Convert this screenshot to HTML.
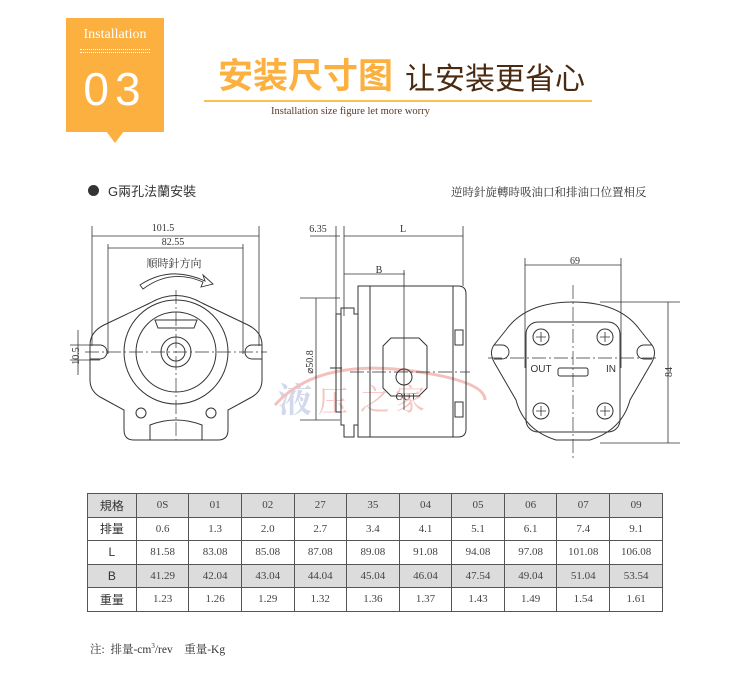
<!DOCTYPE html>
<html><head><meta charset="utf-8"><style>
body{margin:0;background:#fff;width:750px;height:700px;position:relative;overflow:hidden;font-family:"Liberation Serif","Noto Serif CJK SC",serif}
.a{position:absolute;white-space:nowrap}
table{position:absolute;left:87px;top:493px;border-collapse:collapse;width:576px;font-size:11px;color:#444}
td{border:1px solid #555;height:22.5px;text-align:center;padding:0;width:52.5px}
td:first-child{width:49px;font-family:"Liberation Sans","Noto Sans CJK SC",sans-serif;font-size:12px;color:#333}
tr.g td{background:#dcdcdc}
</style></head><body>
<div class="a" style="left:66px;top:18px;width:98px;height:114px;background:#fbb040"></div>
<div class="a" style="left:106px;top:131px;width:0;height:0;border-left:9px solid transparent;border-right:9px solid transparent;border-top:12px solid #fbb040"></div>
<div class="a" style="left:66px;top:27px;width:98px;text-align:center;color:#fff;font-size:14px">Installation</div>
<div class="a" style="left:80px;top:49px;width:70px;height:2px;border-top:1px dotted #fff;border-bottom:1px dotted #fff"></div>
<div class="a" style="left:66px;top:62px;width:98px;text-align:center;color:#fff;font-size:46px;font-family:'Liberation Sans',sans-serif;letter-spacing:6px">03</div>
<div class="a" style="left:218px;top:56px;color:#fbb040;font-size:35px;font-weight:bold;line-height:42px;font-family:'Liberation Sans','Noto Sans CJK SC',sans-serif">安装尺寸图</div>
<div class="a" style="left:405px;top:62px;color:#4a2a10;font-size:30px;line-height:36px;font-family:'Liberation Sans','Noto Sans CJK SC',sans-serif">让安装更省心</div>
<div class="a" style="left:204px;top:100px;width:388px;height:2px;background:#fbc050"></div>
<div class="a" style="left:271px;top:106px;color:#5a3a2a;font-size:10.5px">Installation size figure let more worry</div>
<div class="a" style="left:88px;top:185px;width:11px;height:11px;border-radius:50%;background:#333"></div>
<div class="a" style="left:108px;top:181px;color:#333;font-size:13px;font-family:'Liberation Sans','Noto Sans CJK SC',sans-serif">G兩孔法蘭安裝</div>
<div class="a" style="left:451px;top:184px;color:#333;font-size:11.5px">逆時針旋轉時吸油口和排油口位置相反</div>

<svg class="a" style="left:0;top:0" width="750" height="480" viewBox="0 0 750 480" fill="none" stroke="#333" stroke-width="1" font-family="Liberation Serif,Noto Serif CJK SC,serif">
<g font-size="10" fill="#333" stroke="none">
<text x="163" y="231" text-anchor="middle">101.5</text>
<text x="173" y="245" text-anchor="middle">82.55</text>
<text x="174" y="267" text-anchor="middle" font-size="11">順時針方向</text>
<text x="318" y="232" text-anchor="middle">6.35</text>
<text x="403" y="232" text-anchor="middle">L</text>
<text x="379" y="273" text-anchor="middle">B</text>
<text x="575" y="264" text-anchor="middle">69</text>
<text transform="translate(79,356) rotate(-90)" text-anchor="middle">10.5</text>
<text transform="translate(313,362) rotate(-90)" text-anchor="middle">⌀50.8</text>
<text transform="translate(672,372) rotate(-90)" text-anchor="middle">84</text>
<text x="406" y="400" text-anchor="middle" font-family="Liberation Sans" font-size="10">OUT</text>
<text x="541" y="372" text-anchor="middle" font-family="Liberation Sans" font-size="10">OUT</text>
<text x="611" y="372" text-anchor="middle" font-family="Liberation Sans" font-size="10">IN</text>
</g>
<g fill="#c8d0e8" stroke="none" font-size="34" font-weight="bold" opacity=".8"><text x="278" y="412">液</text></g>
<g fill="#f3b9b5" stroke="none" font-size="30" opacity=".8"><text x="318" y="412">压</text><text x="360" y="410">之</text><text x="395" y="410">家</text></g>
<path d="M275 405q40-45 130-35q80 10 80 30" stroke="#f3c0bc" stroke-width="3"/>
<g stroke-width=".8">
<path d="M92 226v120M259 226v120M92 236h167M108 244v110M243 244v110M108 248h135M70 345h30M70 360h30M78 330v45"/>
</g>
<path d="M140 285q30-20 65-4l-2-6 10 9-12 3 2-5q-32-14-60 7z" stroke-width=".9"/>
<path d="M150 303 Q176 288 202 303 L248 325 Q262 332 262 345 L262 380 Q262 392 250 398 L228 410 L228 430 Q228 440 218 440 L134 440 Q124 440 124 430 L124 410 L102 398 Q90 392 90 380 L90 345 Q90 332 104 325 Z"/>
<path d="M90 345h10a7 7 0 0 1 0 14h-10M262 345h-10a7 7 0 0 0 0 14h10"/>
<circle cx="176" cy="352" r="52"/><circle cx="176" cy="352" r="40"/><circle cx="176" cy="352" r="15"/><circle cx="176" cy="352" r="9"/>
<path d="M155 320h42l-3 8h-36z"/>
<circle cx="141" cy="413" r="5"/><circle cx="211" cy="413" r="5"/>
<path d="M150 440v-15q26-10 52 0v15"/>
<path d="M176 290v150M85 352h182" stroke-dasharray="14 3 2 3" stroke-width=".7"/>
<g stroke-width=".8">
<path d="M336 226v90M344 226v90M463 226v60M310 236h30M344 236h119M344 274h61M404 270v140M300 298h40M300 420h40M316 298v122"/>
</g>
<path d="M336 314h5v98h-5zM341 308h13v6h4v111h-4v12h-10v-12h-3z"/>
<path d="M358 286h100q8 0 8 8v135q0 8-8 8h-100z"/>
<path d="M370 286v151M453 286v151"/>
<path d="M383 346l8-8h28l8 8v42l-8 8h-28l-8-8z"/>
<circle cx="404" cy="377" r="8"/>
<path d="M455 330h8v15h-8zM455 402h8v15h-8zM330 368h12"/>
<path d="M350 372h120" stroke-dasharray="14 3 2 3" stroke-width=".7"/>
<g stroke-width=".8">
<path d="M525 258v110M621 258v110M525 265h96M600 302h80M600 443h80M668 302v141"/>
</g>
<path d="M573 302 Q620 302 640 330 L652 345 Q657 352 652 362 L630 400 Q622 430 590 440 L556 440 Q524 430 516 400 L494 362 Q489 352 494 345 L506 330 Q526 302 573 302Z"/>
<path d="M494 345h8a7 7 0 0 1 0 14h-8M652 345h-8a7 7 0 0 0 0 14h8"/>
<rect x="526" y="322" width="94" height="110" rx="12"/>
<rect x="558" y="368" width="30" height="8" rx="2"/>
<g><circle cx="541" cy="337" r="8"/><circle cx="605" cy="337" r="8"/><circle cx="541" cy="411" r="8"/><circle cx="605" cy="411" r="8"/></g>
<path d="M573 285v175M488 358h170" stroke-dasharray="14 3 2 3" stroke-width=".7"/>
<path d="M536 337h10M541 332v10M600 337h10M605 332v10M536 411h10M541 406v10M600 411h10M605 406v10" stroke-width=".8"/>
</svg>

<table>
<tr class="g"><td>規格</td><td>0S</td><td>01</td><td>02</td><td>27</td><td>35</td><td>04</td><td>05</td><td>06</td><td>07</td><td>09</td></tr>
<tr><td>排量</td><td>0.6</td><td>1.3</td><td>2.0</td><td>2.7</td><td>3.4</td><td>4.1</td><td>5.1</td><td>6.1</td><td>7.4</td><td>9.1</td></tr>
<tr><td>L</td><td>81.58</td><td>83.08</td><td>85.08</td><td>87.08</td><td>89.08</td><td>91.08</td><td>94.08</td><td>97.08</td><td>101.08</td><td>106.08</td></tr>
<tr class="g"><td>B</td><td>41.29</td><td>42.04</td><td>43.04</td><td>44.04</td><td>45.04</td><td>46.04</td><td>47.54</td><td>49.04</td><td>51.04</td><td>53.54</td></tr>
<tr><td>重量</td><td>1.23</td><td>1.26</td><td>1.29</td><td>1.32</td><td>1.36</td><td>1.37</td><td>1.43</td><td>1.49</td><td>1.54</td><td>1.61</td></tr>
</table>
<div class="a" style="left:90px;top:641px;color:#333;font-size:11.5px">注:&nbsp; 排量-cm<sup style="font-size:7px">3</sup>/rev&nbsp;&nbsp;&nbsp; 重量-Kg</div>
</body></html>
